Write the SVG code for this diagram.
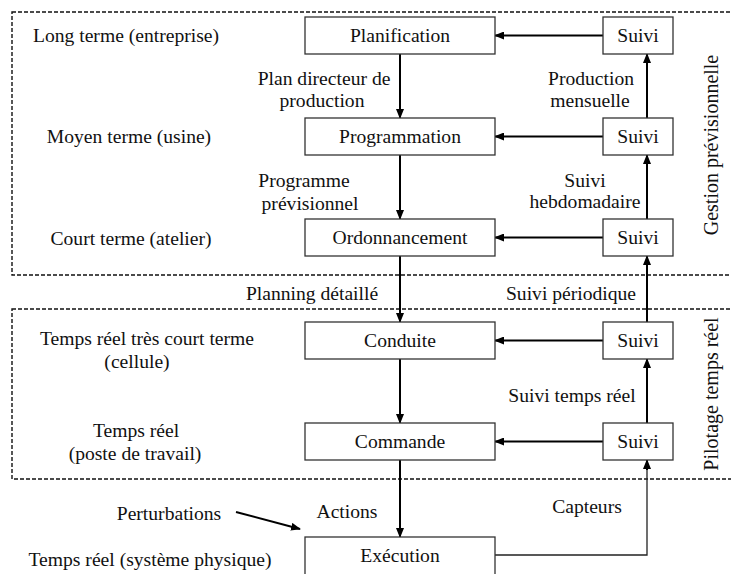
<svg xmlns="http://www.w3.org/2000/svg" width="731" height="574" viewBox="0 0 731 574">
  <style>
    text { font-family: "Liberation Serif", "Times New Roman", serif; font-size: 19.6px; fill: #111; }
    .c { text-anchor: middle; }
    .side { font-size: 20px; }
    .box { fill: #fff; stroke: #333; stroke-width: 1.3; }
    .zone { fill: none; stroke: #111; stroke-width: 1.4; stroke-dasharray: 4 2; }
    .arr { fill: none; stroke: #000; stroke-width: 2; marker-end: url(#head); }
    .thin { fill: none; stroke: #222; stroke-width: 1.3; }
  </style>
  <defs>
    <marker id="head" markerWidth="10" markerHeight="8" refX="9" refY="4" orient="auto" markerUnits="userSpaceOnUse">
      <path d="M0,0 L10,4 L0,8 z" fill="#000"/>
    </marker>
  </defs>

  <rect width="731" height="574" fill="#fff"/>

  <!-- dashed zones -->
  <g id="zones">
    <rect class="zone" x="12" y="12" width="725" height="263"/>
    <rect class="zone" x="12" y="309" width="725" height="170"/>
    <text class="c side" transform="translate(718,145) rotate(-90)">Gestion prévisionnelle</text>
    <text class="c side" transform="translate(718,394) rotate(-90)">Pilotage temps réel</text>
  </g>

  <!-- level labels -->
  <g id="levels">
    <text class="c" x="126" y="42">Long terme (entreprise)</text>
    <text class="c" x="129" y="143">Moyen terme (usine)</text>
    <text class="c" x="131" y="245">Court terme (atelier)</text>
    <text class="c" x="147" y="345">Temps réel très court terme</text>
    <text class="c" x="137" y="368">(cellule)</text>
    <text class="c" x="136" y="437">Temps réel</text>
    <text class="c" x="135" y="460">(poste de travail)</text>
    <text class="c" x="150" y="566">Temps réel (système physique)</text>
  </g>

  <!-- connectors -->
  <g id="connectors">
    <line class="arr" x1="400" y1="54" x2="400" y2="118"/>
    <line class="arr" x1="400" y1="155" x2="400" y2="219"/>
    <line class="arr" x1="400" y1="256" x2="400" y2="322"/>
    <line class="arr" x1="400" y1="359" x2="400" y2="423"/>
    <line class="arr" x1="400" y1="460" x2="400" y2="537"/>

    <line class="arr" x1="603" y1="35.5" x2="495" y2="35.5"/>
    <line class="arr" x1="603" y1="136.5" x2="495" y2="136.5"/>
    <line class="arr" x1="603" y1="237.5" x2="495" y2="237.5"/>
    <line class="arr" x1="603" y1="340.5" x2="495" y2="340.5"/>
    <line class="arr" x1="603" y1="441.5" x2="495" y2="441.5"/>

    <line class="arr" x1="647" y1="118" x2="647" y2="54"/>
    <line class="arr" x1="647" y1="219" x2="647" y2="155"/>
    <line class="arr" x1="647" y1="322" x2="647" y2="256"/>
    <line class="arr" x1="647" y1="423" x2="647" y2="359"/>
    <polyline class="thin" points="495,555 647,555 647,468"/>
    <line class="arr" x1="647" y1="470" x2="647" y2="460"/>

    <line class="arr" x1="236" y1="512" x2="300" y2="529"/>

    <text class="c" x="324" y="85">Plan directeur de</text>
    <text class="c" x="322" y="107">production</text>
    <text class="c" x="304" y="187">Programme</text>
    <text class="c" x="310" y="210">prévisionnel</text>
    <text class="c" x="312" y="300">Planning détaillé</text>
    <text class="c" x="347" y="518">Actions</text>
    <text class="c" x="591" y="85">Production</text>
    <text class="c" x="590" y="107">mensuelle</text>
    <text class="c" x="585" y="187">Suivi</text>
    <text class="c" x="585" y="208">hebdomadaire</text>
    <text class="c" x="571" y="300">Suivi périodique</text>
    <text class="c" x="572" y="402">Suivi temps réel</text>
    <text class="c" x="587" y="513">Capteurs</text>
    <text class="c" x="169" y="520">Perturbations</text>
  </g>

  <!-- main chain -->
  <g id="planification"><rect class="box" x="305" y="17" width="190" height="37"/><text class="c" x="400" y="42">Planification</text></g>
  <g id="programmation"><rect class="box" x="305" y="118" width="190" height="37"/><text class="c" x="400" y="143">Programmation</text></g>
  <g id="ordonnancement"><rect class="box" x="305" y="219" width="190" height="37"/><text class="c" x="400" y="244">Ordonnancement</text></g>
  <g id="conduite"><rect class="box" x="305" y="322" width="190" height="37"/><text class="c" x="400" y="347">Conduite</text></g>
  <g id="commande"><rect class="box" x="305" y="423" width="190" height="37"/><text class="c" x="400" y="448">Commande</text></g>
  <g id="execution"><rect class="box" x="305" y="537" width="190" height="50"/><text class="c" x="400" y="562">Exécution</text></g>

  <!-- monitoring boxes -->
  <g id="suivi-1"><rect class="box" x="603" y="17" width="70" height="37"/><text class="c" x="638" y="42">Suivi</text></g>
  <g id="suivi-2"><rect class="box" x="603" y="118" width="70" height="37"/><text class="c" x="638" y="143">Suivi</text></g>
  <g id="suivi-3"><rect class="box" x="603" y="219" width="70" height="37"/><text class="c" x="638" y="244">Suivi</text></g>
  <g id="suivi-4"><rect class="box" x="603" y="322" width="70" height="37"/><text class="c" x="638" y="347">Suivi</text></g>
  <g id="suivi-5"><rect class="box" x="603" y="423" width="70" height="37"/><text class="c" x="638" y="448">Suivi</text></g>
</svg>
